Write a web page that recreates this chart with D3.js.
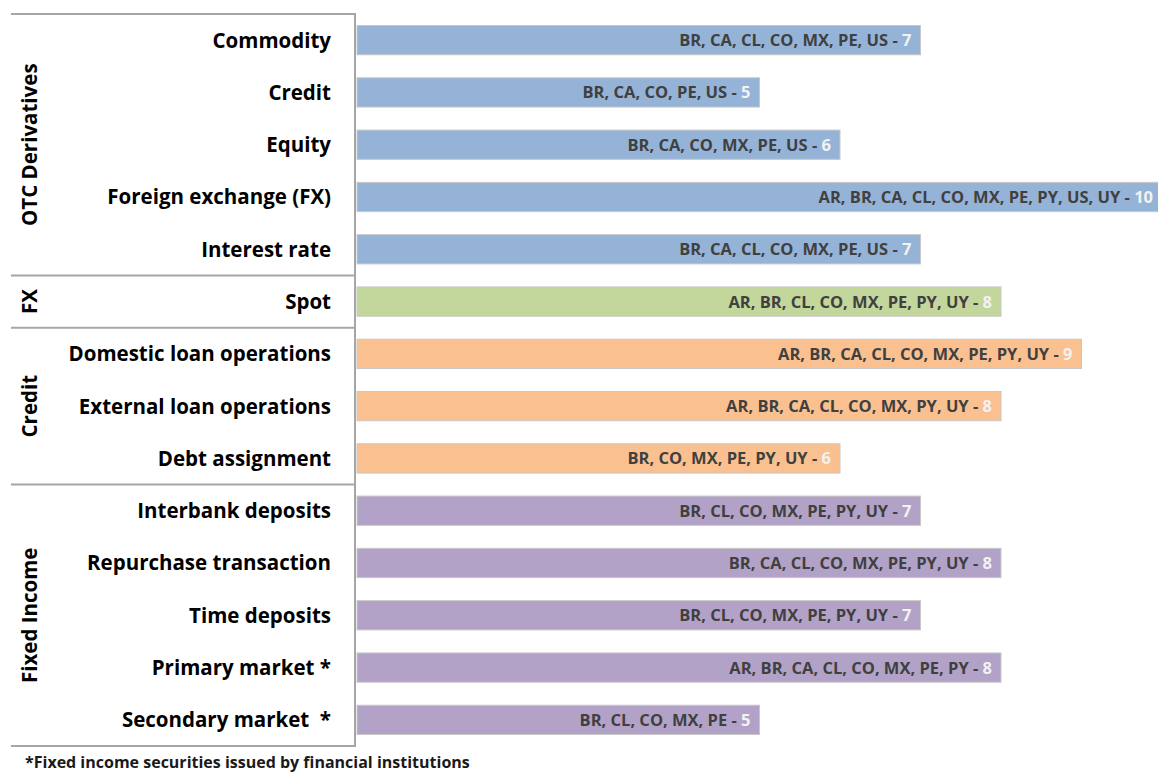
<!DOCTYPE html>
<html>
<head>
<meta charset="utf-8">
<script src="https://cdn.jsdelivr.net/npm/d3@7"></script>
<style>
  body { margin: 0; background: #fff; }
  svg { display: block; font-family: "Open Sans", sans-serif; }
</style>
</head>
<body>
<svg id="chart"></svg>
<script>
// rows, top to bottom
var categories = ['Commodity', 'Credit', 'Equity', 'Foreign exchange (FX)', 'Interest rate',
  'Spot',
  'Domestic loan operations', 'External loan operations', 'Debt assignment',
  'Interbank deposits', 'Repurchase transaction', 'Time deposits', 'Primary market *', 'Secondary market  *'];
var counts = [7, 5, 6, 10, 7, 8, 9, 8, 6, 7, 8, 7, 8, 5];
var countries = [
  'BR, CA, CL, CO, MX, PE, US',
  'BR, CA, CO, PE, US',
  'BR, CA, CO, MX, PE, US',
  'AR, BR, CA, CL, CO, MX, PE, PY, US, UY',
  'BR, CA, CL, CO, MX, PE, US',
  'AR, BR, CL, CO, MX, PE, PY, UY',
  'AR, BR, CA, CL, CO, MX, PE, PY, UY',
  'AR, BR, CA, CL, CO, MX, PY, UY',
  'BR, CO, MX, PE, PY, UY',
  'BR, CL, CO, MX, PE, PY, UY',
  'BR, CA, CL, CO, MX, PE, PY, UY',
  'BR, CL, CO, MX, PE, PY, UY',
  'AR, BR, CA, CL, CO, MX, PE, PY',
  'BR, CL, CO, MX, PE'];
var groups = ['OTC Derivatives', 'FX', 'Credit', 'Fixed Income'];
var groupSizes = [5, 1, 3, 5];
var groupColors = ['#95b3d7', '#c3d69b', '#fac090', '#b3a2c7'];
var footnote = '*Fixed income securities issued by financial institutions';

var w = 1158, h = 774;
var boxLeft = 11, boxRight = 355, boxTop = 14, boxBottom = 746;

var svg = d3.select('#chart').attr('width', w).attr('height', h);

// group index for each row
var rowGroup = [];
groupSizes.forEach(function(n, g) { for (var i = 0; i < n; i++) rowGroup.push(g); });

var y = d3.scaleBand()
  .domain(categories)
  .range([boxTop, boxBottom])
  .paddingInner(0.44)
  .paddingOuter(0.22);

var x = d3.scaleLinear()
  .domain([0, 10])
  .range([357, 1162]);

// bars
svg.append('g').selectAll('rect')
  .data(categories)
  .join('rect')
  .attr('x', x(0))
  .attr('y', function(d) { return y(d); })
  .attr('width', function(d, i) { return x(counts[i]) - x(0); })
  .attr('height', y.bandwidth())
  .attr('fill', function(d, i) { return groupColors[rowGroup[i]]; })
  .attr('stroke', '#c8c8c8')
  .attr('stroke-width', 1);

// bar labels
var lab = svg.append('g').selectAll('text')
  .data(categories)
  .join('text')
  .attr('x', function(d, i) { return x(counts[i]) - 9; })
  .attr('y', function(d) { return y(d) + y.bandwidth() / 2; })
  .attr('dy', '0.36em')
  .attr('text-anchor', 'end')
  .attr('font-size', 16.5)
  .attr('font-weight', 700);
lab.append('tspan').attr('fill', '#404040').text(function(d, i) { return countries[i] + ' - '; });
lab.append('tspan').attr('fill', '#f2f2f2').text(function(d, i) { return counts[i]; });

// category labels
svg.append('g').selectAll('text')
  .data(categories)
  .join('text')
  .attr('x', 331)
  .attr('y', function(d) { return y(d) + y.bandwidth() / 2; })
  .attr('dy', '0.36em')
  .attr('text-anchor', 'end')
  .attr('font-size', 20.5)
  .attr('font-weight', 700)
  .attr('fill', '#000')
  .style('white-space', 'pre')
  .text(function(d) { return d; });

// group boxes
var bounds = [boxTop];
var acc = 0;
groupSizes.forEach(function(n) {
  acc += n;
  bounds.push(boxTop + acc * (boxBottom - boxTop) / categories.length);
});

var lines = svg.append('g').attr('stroke', '#a6a6a6').attr('stroke-width', 2);
bounds.forEach(function(b) {
  lines.append('line').attr('x1', boxLeft).attr('x2', boxRight).attr('y1', b).attr('y2', b);
});
lines.append('line').attr('x1', boxRight).attr('x2', boxRight).attr('y1', boxTop - 1).attr('y2', boxBottom + 1);

// group labels, rotated
svg.append('g').selectAll('text')
  .data(groups)
  .join('text')
  .attr('transform', function(d, i) {
    var cy = (bounds[i] + bounds[i + 1]) / 2;
    return 'translate(30,' + cy + ') rotate(-90)';
  })
  .attr('dy', '0.36em')
  .attr('text-anchor', 'middle')
  .attr('font-size', 20.5)
  .attr('font-weight', 700)
  .attr('fill', '#000')
  .text(function(d) { return d; });

// footnote
svg.append('text')
  .attr('x', 25)
  .attr('y', 768)
  .attr('font-size', 16)
  .attr('font-weight', 700)
  .attr('fill', '#1a1a1a')
  .text(footnote);
</script>
</body>
</html>
